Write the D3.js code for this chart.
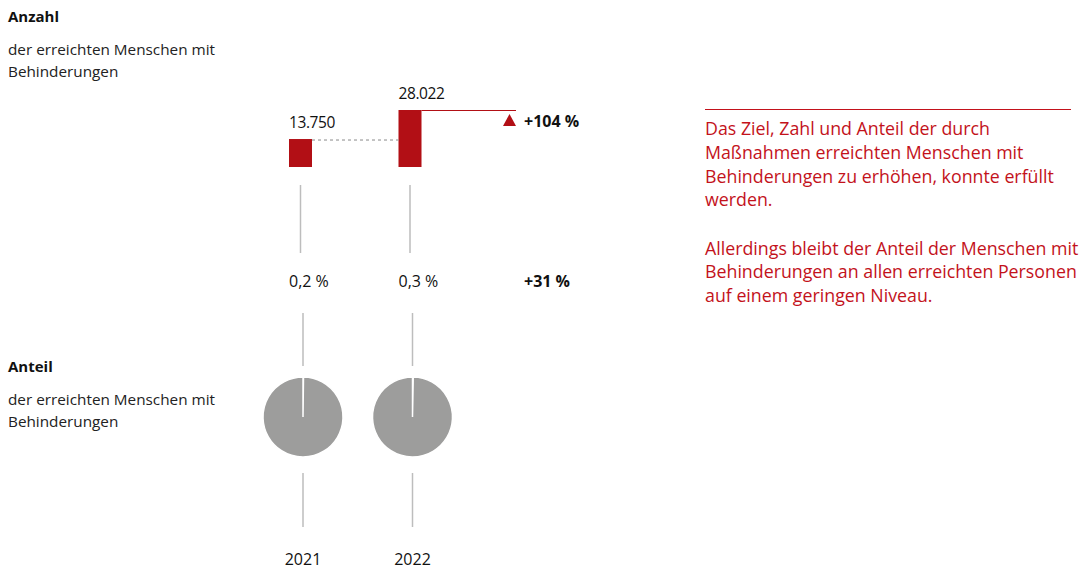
<!DOCTYPE html>
<html>
<head>
<meta charset="utf-8">
<script src="https://cdn.jsdelivr.net/npm/d3@7"></script>
<style>
  body { margin: 0; background: #fff; }
  text { font-family: "Open Sans", sans-serif; }
</style>
</head>
<body>
<div id="chart"></div>
<script>
var width = 1084, height = 571;

// data
var years = ["2021", "2022"];
var counts = [13750, 28022];
var countLabels = ["13.750", "28.022"];
var shares = [0.2, 0.3];
var shareLabels = ["0,2 %", "0,3 %"];
var countChange = "+104 %";
var shareChange = "+31 %";
var note1 = ["Das Ziel, Zahl und Anteil der durch", "Maßnahmen erreichten Menschen mit",
  "Behinderungen zu erhöhen, konnte erfüllt", "werden."];
var note2 = ["Allerdings bleibt der Anteil der Menschen mit", "Behinderungen an allen erreichten Personen",
  "auf einem geringen Niveau."];

var red = "#b20f15", textRed = "#c3121b", grey = "#9d9d9c", lineGrey = "#bdbdbd";

var svg = d3.select("#chart").append("svg")
  .attr("width", width)
  .attr("height", height);

// column positions
var x = d3.scalePoint().domain(years).range([300.5, 410]);
var barW = 23;
var y = d3.scaleLinear().domain([0, counts[1]]).range([167, 110]);

// headings left
function heading(title, sub, top) {
  svg.append("text").text(title)
    .attr("x", 8).attr("y", top)
    .attr("font-size", 15).attr("font-weight", "bold").attr("fill", "#111");
  sub.forEach(function(s, i) {
    svg.append("text").text(s)
      .attr("x", 8).attr("y", top + 33 + i * 22)
      .attr("font-size", 15.3).attr("fill", "#222");
  });
}
heading("Anzahl", ["der erreichten Menschen mit", "Behinderungen"], 22);
heading("Anteil", ["der erreichten Menschen mit", "Behinderungen"], 372);

// bars
svg.selectAll("rect.bar").data(counts).enter().append("rect")
  .attr("class", "bar")
  .attr("x", function(d, i) { return x(years[i]) - barW / 2; })
  .attr("y", function(d) { return y(d); })
  .attr("width", barW)
  .attr("height", function(d) { return y(0) - y(d); })
  .attr("fill", red);

svg.selectAll("text.val").data(countLabels).enter().append("text")
  .attr("class", "val")
  .attr("x", function(d, i) { return x(years[i]) - barW / 2; })
  .attr("y", function(d, i) { return y(counts[i]) - 11; })
  .attr("font-size", 15.5).attr("letter-spacing", -0.4).attr("fill", "#111")
  .text(function(d) { return d; });

// dashed connector from first bar
svg.append("line")
  .attr("x1", x(years[0]) + barW / 2).attr("x2", x(years[1]) - barW / 2)
  .attr("y1", y(counts[0]) + 1).attr("y2", y(counts[0]) + 1)
  .attr("stroke", "#8a8a8a").attr("stroke-dasharray", "3,3").attr("stroke-width", 1);

// red line from second bar
svg.append("line")
  .attr("x1", x(years[1]) + barW / 2).attr("x2", 516)
  .attr("y1", y(counts[1]) + 0.5).attr("y2", y(counts[1]) + 0.5)
  .attr("stroke", red).attr("stroke-width", 1.2);

svg.append("path")
  .attr("d", "M503,126 L516,126 L509.5,114 Z")
  .attr("fill", red);

svg.append("text").text(countChange)
  .attr("x", 524).attr("y", 127)
  .attr("font-size", 16).attr("font-weight", "bold").attr("fill", "#111");

// grey guide lines
years.forEach(function(yr) {
  var cx = x(yr);
  svg.append("line").attr("x1", cx).attr("x2", cx).attr("y1", 185).attr("y2", 253)
    .attr("stroke", lineGrey).attr("stroke-width", 1.5);
  svg.append("line").attr("x1", cx + 2.5).attr("x2", cx + 2.5).attr("y1", 313).attr("y2", 366)
    .attr("stroke", lineGrey).attr("stroke-width", 1.5);
  svg.append("line").attr("x1", cx + 2.5).attr("x2", cx + 2.5).attr("y1", 473).attr("y2", 527)
    .attr("stroke", lineGrey).attr("stroke-width", 1.5);
});

// share labels
svg.selectAll("text.share").data(shareLabels).enter().append("text")
  .attr("class", "share")
  .attr("x", function(d, i) { return x(years[i]) - barW / 2; })
  .attr("y", 287)
  .attr("font-size", 16).attr("fill", "#111")
  .text(function(d) { return d; });

svg.append("text").text(shareChange)
  .attr("x", 524).attr("y", 287)
  .attr("font-size", 16).attr("font-weight", "bold").attr("fill", "#111");

// pies
var pie = d3.pie().sort(null);
var arc = d3.arc().innerRadius(0).outerRadius(40);
shares.forEach(function(s, i) {
  var g = svg.append("g")
    .attr("transform", "translate(" + (x(years[i]) + 2.5) + ",417)");
  g.selectAll("path").data(pie([s, 100 - s])).enter().append("path")
    .attr("d", arc)
    .attr("fill", function(d, j) { return j === 0 ? "#fff" : grey; })
    .attr("stroke", "#fff").attr("stroke-width", 1.5);
});

// year labels
svg.selectAll("text.year").data(years).enter().append("text")
  .attr("class", "year")
  .attr("x", function(d) { return x(d) + 2.5; })
  .attr("y", 565)
  .attr("text-anchor", "middle")
  .attr("font-size", 16).attr("fill", "#111")
  .text(function(d) { return d; });

// note on the right
svg.append("line")
  .attr("x1", 705).attr("x2", 1071).attr("y1", 109.5).attr("y2", 109.5)
  .attr("stroke", textRed).attr("stroke-width", 1.2);

note1.forEach(function(s, i) {
  svg.append("text").text(s)
    .attr("x", 705).attr("y", 135 + i * 23.8)
    .attr("font-size", 17.8).attr("fill", textRed);
});
note2.forEach(function(s, i) {
  svg.append("text").text(s)
    .attr("x", 705).attr("y", 254.5 + i * 23.8)
    .attr("font-size", 17.8).attr("fill", textRed);
});
</script>
</body>
</html>
